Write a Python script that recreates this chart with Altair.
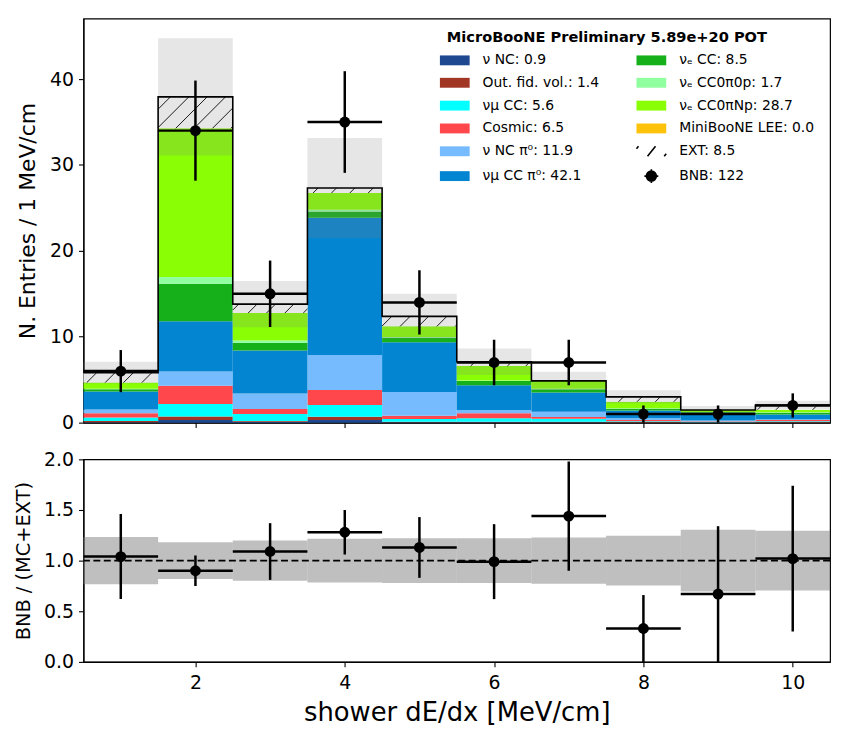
import math
import altair as alt
import pandas as pd

# ---------------- data ----------------
bins = [1, 2, 3, 4, 5, 6, 7, 8, 9, 10]
edges = [0.5, 1.5, 2.5, 3.5, 4.5, 5.5, 6.5, 7.5, 8.5, 9.5, 10.5]

comp_names = ["nu NC", "Out. fid. vol.", "numu CC", "Cosmic", "nu NC pi0",
              "numu CC pi0", "nue CC", "nue CC0pi0p", "nue CC0piNp",
              "MiniBooNE LEE", "EXT"]
comp_colors = ["#1e488f", "#a03623", "#00ffff", "#ff474c", "#75bbfd",
               "#0485d1", "#15b01a", "#8fff9f", "#89fe05", "#fdc20b", "#ffffff"]

nu_nc     = [0.05, 0.30, 0.10, 0.30, 0.05, 0.05, 0.05, 0.02, 0.02, 0.02]
out_fid   = [0.15, 0.40, 0.10, 0.39, 0.05, 0.05, 0.05, 0.05, 0.03, 0.05]
numu_cc   = [0.40, 1.47, 0.80, 1.35, 0.32, 0.40, 0.35, 0.10, 0.05, 0.08]
cosmic    = [0.48, 2.12, 0.58, 1.77, 0.38, 0.58, 0.20, 0.15, 0.05, 0.15]
nc_pi0    = [0.46, 1.65, 1.81, 4.05, 2.78, 0.39, 0.62, 0.20, 0.10, 0.10]
numu_pi0  = [2.08, 5.86, 5.01, 15.99, 5.78, 2.89, 2.23, 0.90, 0.90, 0.55]
nue_cc    = [0.27, 4.36, 0.89, 0.74, 0.55, 0.50, 0.39, 0.20, 0.08, 0.20]
nue_0p    = [0.05, 0.81, 0.27, 0.19, 0.05, 0.04, 0.05, 0.05, 0.02, 0.05]
nue_np    = [0.72, 17.30, 3.20, 1.96, 1.25, 1.69, 0.92, 0.76, 0.22, 0.30]
lee       = [0.00, 0.00, 0.00, 0.00, 0.00, 0.00, 0.00, 0.00, 0.00, 0.00]
ext       = [1.16, 3.66, 1.04, 0.58, 1.16, 0.50, 0.00, 0.57, 0.00, 0.54]
comp_values = [nu_nc, out_fid, numu_cc, cosmic, nc_pi0, numu_pi0,
               nue_cc, nue_0p, nue_np, lee, ext]

mc_err    = [1.27, 6.82, 2.70, 5.82, 2.63, 1.54, 1.07, 0.78, 0.47, 0.50]

data      = [6, 34, 15, 35, 14, 7, 7, 1, 1, 2]
data_err  = [2.45, 5.83, 3.87, 5.92, 3.74, 2.65, 2.65, 1.00, 1.00, 1.41]

ratio      = [1.04, 0.90, 1.09, 1.28, 1.13, 0.99, 1.44, 0.33, 0.67, 1.02]
ratio_err  = [0.42, 0.15, 0.28, 0.22, 0.30, 0.37, 0.54, 0.33, 0.67, 0.72]
ratio_band = [0.234, 0.182, 0.198, 0.217, 0.220, 0.220, 0.228, 0.245, 0.305, 0.295]

# legend (column-major: first six entries form the left column)
legend_labels = ["ν NC: 0.9", "Out. fid. vol.: 1.4", "νμ CC: 5.6", "Cosmic: 6.5",
                 "ν NC π⁰: 11.9", "νμ CC π⁰: 42.1",
                 "νₑ CC: 8.5", "νₑ CC0π0p: 1.7", "νₑ CC0πNp: 28.7",
                 "MiniBooNE LEE: 0.0", "EXT: 8.5", "BNB: 122"]
legend_fill = ["#1e488f", "#a03623", "#00ffff", "#ff474c", "#75bbfd", "#0485d1",
               "#15b01a", "#8fff9f", "#89fe05", "#fdc20b", "transparent", "black"]
legend_stroke = ["transparent"] * 10 + ["black", "black"]
RECT = "M-2.14,-0.71L2.14,-0.71L2.14,0.71L-2.14,0.71Z"
HATCH = "M-2.14,-0.35L-1.85,-0.71M-0.55,0.71L0.6,-0.71M1.85,0.71L2.14,0.35"
DOT = ("M-0.72,0A0.72,0.72 0 1,1 0.72,0A0.72,0.72 0 1,1 -0.72,0Z"
       "M-1.0,0L1.0,0M0,-1.0L0,1.0")
legend_shapes = [RECT] * 10 + [HATCH, DOT]

# ---------------- geometry ----------------
W, H1, H2 = 752, 407, 204
YMAX1 = 47.05
FONT = "DejaVu Sans"

lo = edges[:-1]
hi = edges[1:]
totals = [sum(c[i] for c in comp_values) for i in range(len(bins))]

rows = []
for ci, (name, vals) in enumerate(zip(comp_names, comp_values)):
    for b, l, h, v in zip(bins, lo, hi, vals):
        rows.append(dict(comp=name, idx=ci, bin=b, lo=l, hi=h, v=v))
stack_df = pd.DataFrame(rows)

main_df = pd.DataFrame(dict(bin=bins, lo=lo, hi=hi, tot=totals, err=mc_err,
                            data=data, derr=data_err))
step_df = pd.DataFrame(dict(x=edges, y=totals + [totals[-1]]))

# hatch lines for the EXT part (45 degrees on screen)
SX = W / (edges[-1] - edges[0])
SY = H1 / YMAX1
SP = 18.5
hrows = []
for l, h, t, e in zip(lo, hi, totals, ext):
    if e <= 0:
        continue
    X0, X1 = (l - edges[0]) * SX, (h - edges[0]) * SX
    Y0, Y1 = (t - e) * SY, t * SY
    k = math.ceil((Y0 - X1) / SP)
    while k * SP <= Y1 - X0:
        c = k * SP
        xa, xb = max(X0, Y0 - c), min(X1, Y1 - c)
        if xb > xa:
            hrows.append(dict(x=xa / SX + edges[0], y=(xa + c) / SY,
                              x2=xb / SX + edges[0], y2=(xb + c) / SY))
        k += 1
hatch_df = pd.DataFrame(hrows)

ratio_df = pd.DataFrame(dict(bin=bins, lo=lo, hi=hi, r=ratio, rerr=ratio_err,
                             band=ratio_band))

xscale = alt.Scale(domain=[edges[0], edges[-1]], nice=False, zero=False)
y1scale = alt.Scale(domain=[0, YMAX1], nice=False, zero=True)
y2scale = alt.Scale(domain=[0, 2.0], nice=False, zero=True)

top_x_axis = alt.Axis(values=[2, 4, 6, 8, 10], labels=False, title=None, format="d")
top_y_axis = alt.Axis(values=[0, 10, 20, 30, 40], title="N. Entries / 1 MeV/cm",
                      titleFontSize=22, titlePadding=10, format="d")

# ---------------- top panel ----------------
stack = alt.Chart(stack_df).transform_stack(
    stack="v", groupby=["bin"], as_=["y0", "y1"],
    sort=[alt.SortField("idx", order="ascending")]
).mark_rect(strokeWidth=0).encode(
    x=alt.X("lo:Q", scale=xscale, axis=top_x_axis),
    x2="hi:Q",
    y=alt.Y("y0:Q", scale=y1scale, axis=top_y_axis),
    y2="y1:Q",
    color=alt.Color("comp:N", scale=alt.Scale(domain=comp_names, range=comp_colors),
                    legend=None),
)

hatch = alt.Chart(hatch_df).mark_rule(color="black", strokeWidth=1).encode(
    x=alt.X("x:Q", scale=xscale), y=alt.Y("y:Q", scale=y1scale),
    x2="x2:Q", y2="y2:Q")

band = alt.Chart(main_df).transform_calculate(
    blo="datum.tot - datum.err", bhi="datum.tot + datum.err"
).mark_rect(fill="grey", opacity=0.2, strokeWidth=0).encode(
    x=alt.X("lo:Q", scale=xscale), x2="hi:Q",
    y=alt.Y("blo:Q", scale=y1scale), y2="bhi:Q")

step = alt.Chart(step_df).mark_line(interpolate="step-after", color="black",
                                    strokeWidth=1.6).encode(
    x=alt.X("x:Q", scale=xscale), y=alt.Y("y:Q", scale=y1scale))

dxerr = alt.Chart(main_df).mark_rule(color="black", strokeWidth=2.5).encode(
    x=alt.X("lo:Q", scale=xscale), x2="hi:Q", y=alt.Y("data:Q", scale=y1scale))

dyerr = alt.Chart(main_df).transform_calculate(
    elo="datum.data - datum.derr", ehi="datum.data + datum.derr"
).mark_rule(color="black", strokeWidth=2.5).encode(
    x=alt.X("bin:Q", scale=xscale), y=alt.Y("elo:Q", scale=y1scale), y2="ehi:Q")

dpts = alt.Chart(main_df).mark_circle(color="black", size=120, opacity=1).encode(
    x=alt.X("bin:Q", scale=xscale), y=alt.Y("data:Q", scale=y1scale))

legend_df = pd.DataFrame(dict(lab=legend_labels))
leg = alt.Legend(
    title="MicroBooNE Preliminary 5.89e+20 POT", orient="none",
    legendX=366, legendY=12, columns=2, columnPadding=33, rowPadding=5,
    symbolSize=196, symbolStrokeWidth=1.6, labelOffset=20,
    labelFont=FONT, labelFontSize=14, labelColor="black", labelLimit=400,
    titleFont=FONT, titleFontSize=14.7, titleFontWeight="bold", titleColor="black",
    titlePadding=7, titleLimit=600, padding=0, symbolOpacity=1,
)
legend_layer = alt.Chart(legend_df).transform_filter("false").mark_point(
    filled=True, opacity=1).encode(
    fill=alt.Fill("lab:N", scale=alt.Scale(domain=legend_labels, range=legend_fill),
                  legend=leg),
    stroke=alt.Stroke("lab:N", scale=alt.Scale(domain=legend_labels, range=legend_stroke),
                      legend=leg),
    shape=alt.Shape("lab:N", scale=alt.Scale(domain=legend_labels, range=legend_shapes),
                    legend=leg),
)

top = alt.layer(stack, hatch, band, step, dxerr, dyerr, dpts, legend_layer).properties(
    width=W, height=H1)

# ---------------- ratio panel ----------------
bot_x_axis = alt.Axis(values=[2, 4, 6, 8, 10], format="d", labelPadding=7,
                      title="shower dE/dx [MeV/cm]", titleFontSize=26, titlePadding=7)
bot_y_axis = alt.Axis(values=[0, 0.5, 1.0, 1.5, 2.0], format=".1f",
                      title="BNB / (MC+EXT)", titleFontSize=19.5, titlePadding=10)

rband = alt.Chart(ratio_df).transform_calculate(
    blo="1 - datum.band", bhi="1 + datum.band"
).mark_rect(fill="grey", opacity=0.5, strokeWidth=0).encode(
    x=alt.X("lo:Q", scale=xscale, axis=bot_x_axis), x2="hi:Q",
    y=alt.Y("blo:Q", scale=y2scale, axis=bot_y_axis), y2="bhi:Q")

one = alt.Chart(pd.DataFrame(dict(y=[1.0]))).mark_rule(
    color="black", strokeWidth=2, strokeDash=[7, 3.5]).encode(
    y=alt.Y("y:Q", scale=y2scale))

rxerr = alt.Chart(ratio_df).mark_rule(color="black", strokeWidth=2.5, clip=True).encode(
    x=alt.X("lo:Q", scale=xscale), x2="hi:Q", y=alt.Y("r:Q", scale=y2scale))

ryerr = alt.Chart(ratio_df).transform_calculate(
    elo="datum.r - datum.rerr", ehi="datum.r + datum.rerr"
).mark_rule(color="black", strokeWidth=2.5, clip=True).encode(
    x=alt.X("bin:Q", scale=xscale), y=alt.Y("elo:Q", scale=y2scale), y2="ehi:Q")

rpts = alt.Chart(ratio_df).mark_circle(color="black", size=120, opacity=1,
                                        clip=True).encode(
    x=alt.X("bin:Q", scale=xscale), y=alt.Y("r:Q", scale=y2scale))

bottom = alt.layer(rband, one, rxerr, ryerr, rpts).properties(width=W, height=H2)

chart = alt.vconcat(top, bottom, spacing=16).properties(
    padding={"left": 5, "top": 7, "right": 5, "bottom": 5}
).configure_view(
    stroke="black", strokeWidth=1.2
).configure_axis(
    labelFont=FONT, labelFontSize=19, labelColor="black", labelPadding=5,
    tickColor="black", tickSize=5, tickWidth=1.1, domainColor="black",
    domainWidth=1.2, grid=False, titleFont=FONT, titleFontWeight="normal",
    titleColor="black",
).configure_legend(symbolOpacity=1)

chart.save("out.html", embed_options={"renderer": "svg", "actions": False})
